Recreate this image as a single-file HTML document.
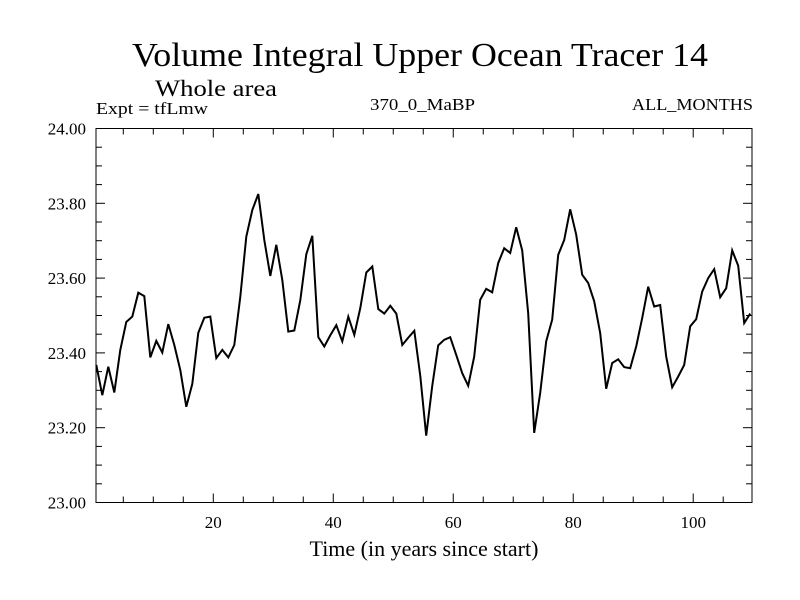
<!DOCTYPE html>
<html><head><meta charset="utf-8"><style>
html,body{margin:0;padding:0;background:#fff;}
svg{display:block;font-family:"Liberation Serif",serif;}
</style></head><body>
<svg id="chart" width="800" height="600" viewBox="0 0 800 600" xmlns="http://www.w3.org/2000/svg">
<rect width="800" height="600" fill="#fff"/>
<text x="132" y="66" font-size="34" textLength="576" lengthAdjust="spacingAndGlyphs">Volume Integral Upper Ocean Tracer 14</text>
<text x="155" y="96" font-size="23" textLength="122" lengthAdjust="spacingAndGlyphs">Whole area</text>
<text x="96" y="114" font-size="17" textLength="112" lengthAdjust="spacingAndGlyphs">Expt = tfLmw</text>
<text x="370" y="110" font-size="17" textLength="105" lengthAdjust="spacingAndGlyphs">370_0_MaBP</text>
<text x="753" y="110" font-size="17" text-anchor="end" textLength="121" lengthAdjust="spacingAndGlyphs">ALL_MONTHS</text>
<g id="axes"></g>
<path id="series" fill="none" stroke="#000" stroke-width="2" stroke-linejoin="miter"/>
<rect x="96" y="128.5" width="656" height="374" fill="none" stroke="#000" stroke-width="1"/>
<text x="424" y="556" font-size="22" text-anchor="middle">Time (in years since start)</text>
</svg>
<script>
const xTicks = [20, 40, 60, 80, 100];
const yTicks = [23.0, 23.2, 23.4, 23.6, 23.8, 24.0];
const yTickLabels = ["23.00", "23.20", "23.40", "23.60", "23.80", "24.00"];
const years = [];
for (let i = 0; i < 110; i++) years.push(0.5 + i);
const values = [23.368,23.287,23.363,23.294,23.408,23.483,23.497,23.561,23.552,23.388,
23.432,23.401,23.477,23.421,23.354,23.256,23.317,23.454,23.494,23.497,
23.386,23.408,23.388,23.421,23.550,23.711,23.782,23.825,23.702,23.606,
23.689,23.595,23.457,23.460,23.541,23.664,23.713,23.442,23.417,23.447,
23.474,23.431,23.497,23.448,23.520,23.615,23.631,23.517,23.505,23.526,
23.505,23.421,23.441,23.459,23.338,23.179,23.311,23.420,23.435,23.442,
23.395,23.346,23.312,23.390,23.542,23.571,23.562,23.640,23.680,23.667,
23.736,23.674,23.506,23.186,23.293,23.431,23.489,23.662,23.702,23.784,
23.716,23.609,23.587,23.538,23.453,23.304,23.373,23.383,23.362,23.359,
23.417,23.493,23.577,23.524,23.528,23.390,23.308,23.337,23.368,23.471,
23.490,23.564,23.600,23.624,23.549,23.573,23.674,23.633,23.480,23.505];
const X0 = 96, X1 = 752, Y0 = 502.5, Y1 = 128.5;
const xMin = 0.45, xMax = 109.8, yMin = 23, yMax = 24;
function sx(v){ return X0 + (v - xMin) / (xMax - xMin) * (X1 - X0); }
function sy(v){ return Y0 - (v - yMin) / (yMax - yMin) * (Y0 - Y1); }
const NS = "http://www.w3.org/2000/svg";
const axes = document.getElementById("axes");
function line(x1,y1,x2,y2,name){
  const l = document.createElementNS(NS,"line");
  l.setAttribute("x1",x1);l.setAttribute("y1",y1);l.setAttribute("x2",x2);l.setAttribute("y2",y2);
  l.setAttribute("stroke","#000");l.setAttribute("stroke-width","1");
  
  
  axes.appendChild(l);
}
function text(x,y,s,anchor,name){
  const t = document.createElementNS(NS,"text");
  t.setAttribute("x",x);t.setAttribute("y",y);t.setAttribute("font-size","17");
  t.setAttribute("text-anchor",anchor);t.textContent = s;
  
  
  axes.appendChild(t);
}
for (let v = 5; v < xMax; v += 5) {
  const x = sx(v), major = xTicks.indexOf(v) >= 0, len = major ? 9 : 6;
  line(x, Y0, x, Y0 - len, "x-tick");
  line(x, Y1, x, Y1 + len, "x-tick-top");
}
xTicks.forEach(v => text(sx(v), 528, String(v), "middle", "x-tick-label"));
for (let k = 1; k < 20; k++) {
  const v = yMin + k * 0.05, y = sy(v), major = (k % 4 === 0), len = major ? 9 : 6;
  line(X0, y, X0 + len, y, "y-tick");
  line(X1, y, X1 - len, y, "y-tick-right");
}
yTicks.forEach((v,i) => text(86, sy(v) + 6, yTickLabels[i], "end", "y-tick-label"));
let d = "";
values.forEach((v,i) => { d += (i ? "L" : "M") + sx(years[i]).toFixed(1) + "," + sy(v).toFixed(1); });
document.getElementById("series").setAttribute("d", d);
</script>
</body></html>
